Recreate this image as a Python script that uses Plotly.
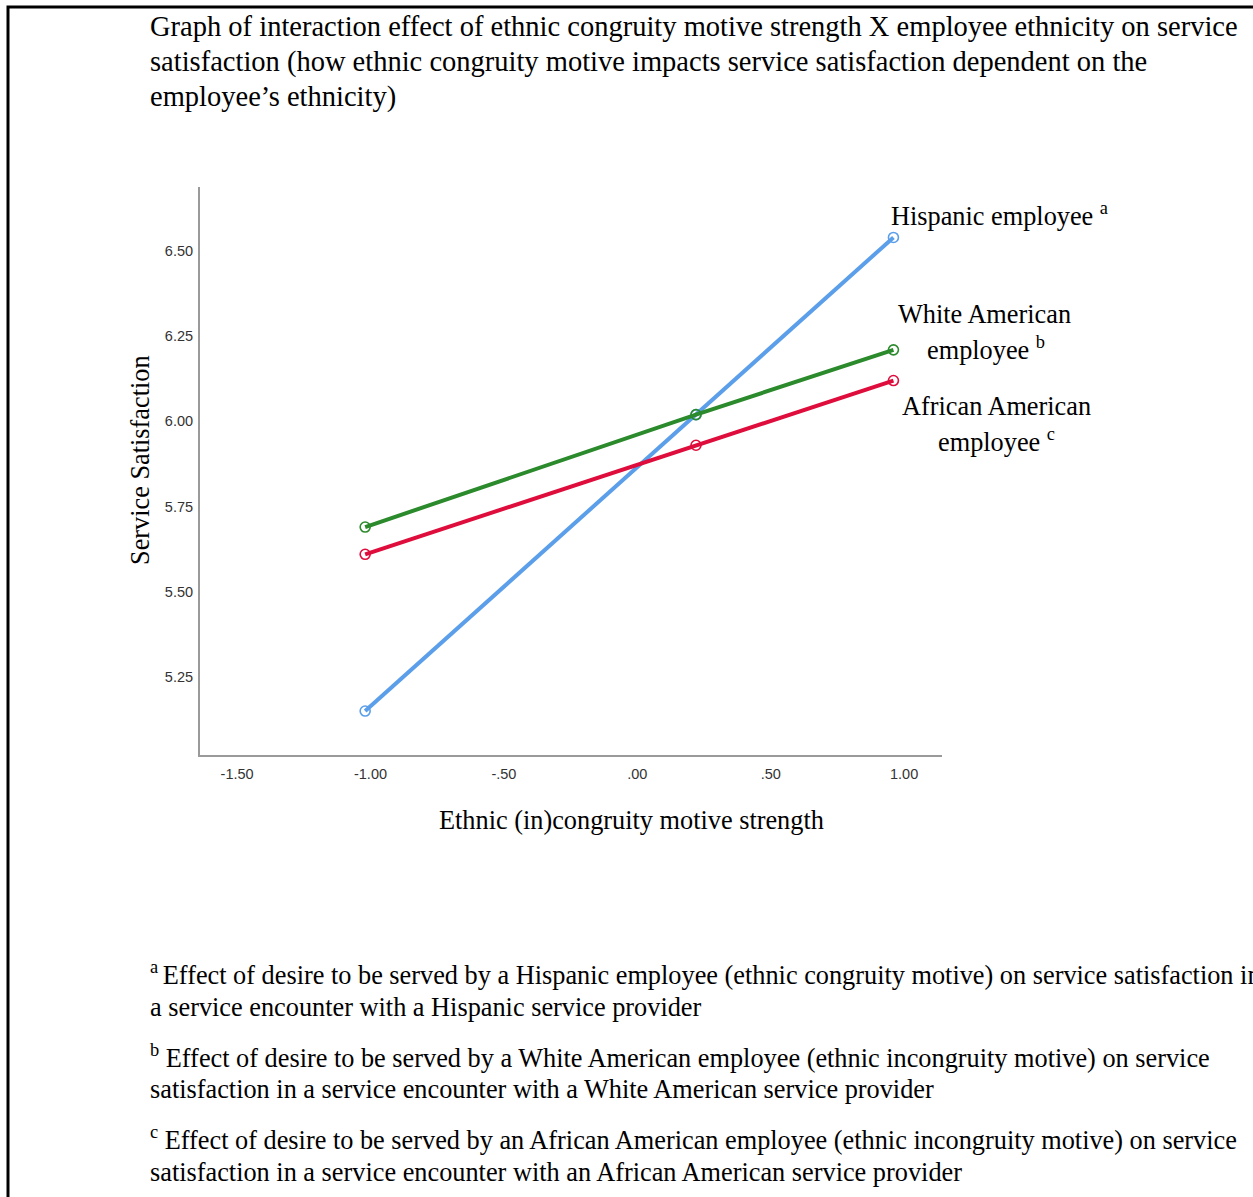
import plotly.graph_objects as go

W, H = 1253, 1197

# ---- data ----
motive_x = [-1.02, 0.22, 0.96]
hispanic = [5.15, 6.02, 6.54]
white_am = [5.69, 6.02, 6.21]
african_am = [5.61, 5.93, 6.12]

x_tickvals = [-1.5, -1.0, -0.5, 0.0, 0.5, 1.0]
x_ticktext = ["-1.50", "-1.00", "-.50", ".00", ".50", "1.00"]
y_tickvals = [5.25, 5.50, 5.75, 6.00, 6.25, 6.50]
y_ticktext = ["5.25", "5.50", "5.75", "6.00", "6.25", "6.50"]

title_lines = [
    "Graph of interaction effect of ethnic congruity motive strength X employee ethnicity on service",
    "satisfaction (how ethnic congruity motive impacts service satisfaction dependent on the",
    "employee\u2019s ethnicity)",
]
footnote_lines = [
    "<sup>a </sup>Effect of desire to be served by a Hispanic employee (ethnic congruity motive) on service satisfaction in",
    "a service encounter with a Hispanic service provider",
    "<sup>b</sup> Effect of desire to be served by a White American employee (ethnic incongruity motive) on service",
    "satisfaction in a service encounter with a White American service provider",
    "<sup>c</sup> Effect of desire to be served by an African American employee (ethnic incongruity motive) on service",
    "satisfaction in a service encounter with an African American service provider",
]

def px(x):
    return x / W

def py(y):
    return 1 - y / H

SERIF = "Liberation Serif, Times New Roman, serif"
SANS = "Liberation Sans, Arial, sans-serif"

fig = go.Figure()
series = [
    ("Hispanic", hispanic, "#5b9ee9"),
    ("White American", white_am, "#2b8a2b"),
    ("African American", african_am, "#de0d3c"),
]
for name, vals, col in series:
    fig.add_trace(go.Scatter(
        x=motive_x, y=vals, mode="lines+markers", name=name,
        line=dict(color=col, width=4),
        marker=dict(symbol="circle-open", size=10, color=col, line=dict(width=1.6, color=col)),
        showlegend=False,
    ))

fig.update_layout(
    width=W, height=H,
    margin=dict(l=0, r=0, t=0, b=0),
    paper_bgcolor="white", plot_bgcolor="white",
    xaxis=dict(
        domain=[px(200), px(942)], range=[-1.639, 1.142],
        tickvals=x_tickvals, ticktext=x_ticktext,
        showgrid=False, zeroline=False,
        showline=True, linecolor="#9a9a9a", linewidth=2,
        ticks="outside", ticklen=5, tickcolor="rgba(0,0,0,0)",
        tickfont=dict(family=SANS, size=14.5, color="#333333"),
    ),
    yaxis=dict(
        domain=[py(755), py(187)], range=[5.021, 6.688],
        tickvals=y_tickvals, ticktext=y_ticktext,
        showgrid=False, zeroline=False,
        showline=True, linecolor="#9a9a9a", linewidth=2,
        ticks="outside", ticklen=2, tickcolor="rgba(0,0,0,0)",
        tickfont=dict(family=SANS, size=14.5, color="#333333"),
    ),
)

ann = []
def text(x, y, s, size=26.3, xanchor="left", angle=0):
    ann.append(dict(x=px(x), y=py(y), xref="paper", yref="paper", text=s,
                    showarrow=False, xanchor=xanchor, yanchor="middle",
                    textangle=angle,
                    font=dict(family=SERIF, size=size, color="black")))

for s, y in zip(title_lines, [27, 62, 97]):
    text(148, y, s, size=28.5)

for s, y in zip(footnote_lines, [973, 1007, 1056, 1089, 1138, 1172]):
    text(148, y, s, size=26.3)

# axis titles
text(631, 820, "Ethnic (in)congruity motive strength", xanchor="center")
text(140, 460, "Service Satisfaction", xanchor="center", angle=-90)

# series labels
text(999, 215, "Hispanic employee <sup>a</sup>", xanchor="center")
text(984, 315, "White American", xanchor="center")
text(986, 348, "employee <sup>b</sup>", xanchor="center")
text(996, 406, "African American", xanchor="center")
text(996, 440, "employee <sup>c</sup>", xanchor="center")

fig.update_layout(annotations=ann)

# outer frame
fig.add_shape(type="rect", xref="paper", yref="paper",
              x0=px(8), x1=px(1300), y0=py(1250), y1=py(7),
              line=dict(color="black", width=3), fillcolor="rgba(0,0,0,0)")

fig.write_html(
    "out.html",
    config={"displayModeBar": False},
    post_script="document.body.style.margin='0';document.body.style.overflow='hidden';",
)
